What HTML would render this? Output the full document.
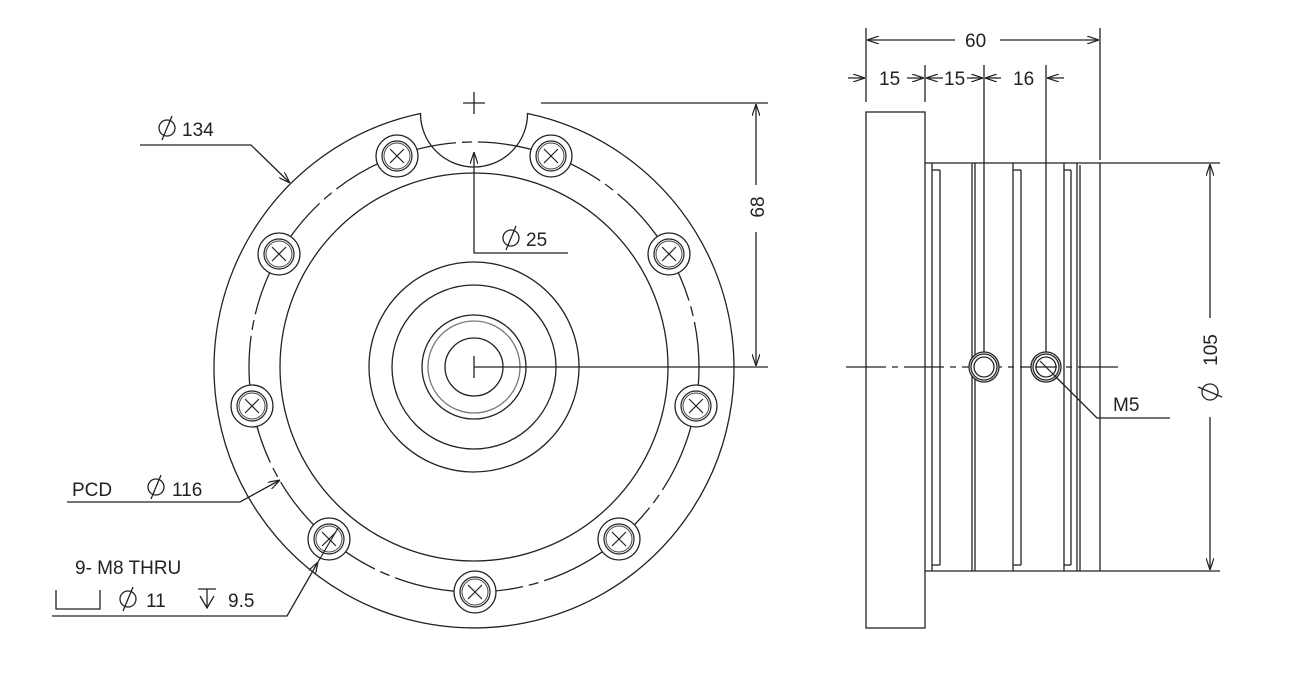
<!DOCTYPE html>
<html><head><meta charset="utf-8"><style>
html,body{margin:0;padding:0;background:#fff;}
svg{display:block;}
text{font-family:"Liberation Sans",Arial,sans-serif;font-size:19px;fill:#222;}
</style></head><body>
<svg width="1308" height="675" viewBox="0 0 1308 675" xmlns="http://www.w3.org/2000/svg">
<defs>
<marker id="a" viewBox="0 0 12 8" refX="12" refY="4" markerWidth="12" markerHeight="8" orient="auto" markerUnits="userSpaceOnUse">
<path d="M0,0 L12,4 L0,8" fill="none" stroke="#222" stroke-width="1.2"/></marker>
<g id="ph"><circle r="21" fill="#fff" stroke="#222" stroke-width="1.3"/><circle r="15" fill="none" stroke="#222" stroke-width="1.2"/><circle r="13" fill="none" stroke="#444" stroke-width="1"/><line x1="-7" y1="-7" x2="7" y2="7" stroke="#222" stroke-width="1.2"/><line x1="-7" y1="7" x2="7" y2="-7" stroke="#222" stroke-width="1.2"/></g>
<g id="dia"><circle r="8" fill="none" stroke="#222" stroke-width="1.3"/><line x1="-5" y1="12" x2="5" y2="-12" stroke="#222" stroke-width="1.3"/></g>
</defs>
<g fill="none" stroke="#222" stroke-width="1.3">
<path d="M 420.5 113.5 A 260 260 0 1 0 527.5 113.5 A 47 47 0 0 1 420.5 113.5 Z"/>
<circle cx="474" cy="367" r="225" stroke-dasharray="130 6 10 6"/>
<circle cx="474" cy="367" r="194"/>
<circle cx="474" cy="367" r="105"/>
<circle cx="474" cy="367" r="82"/>
<circle cx="474" cy="367" r="52"/>
<circle cx="474" cy="367" r="46" stroke="#777"/>
<circle cx="474" cy="367" r="29"/>
<line x1="474" y1="356" x2="474" y2="378"/>
<line x1="463" y1="103" x2="485" y2="103"/><line x1="474" y1="92" x2="474" y2="114"/>
<line x1="541" y1="103" x2="768" y2="103"/>
<line x1="474" y1="367" x2="768" y2="367"/>
<line x1="756" y1="185" x2="756" y2="104" marker-end="url(#a)"/>
<line x1="756" y1="232" x2="756" y2="366" marker-end="url(#a)"/>
<polyline points="568,253 474,253 474,152" marker-end="url(#a)"/>
<polyline points="140,145 251,145 290,183" marker-end="url(#a)"/>
<polyline points="67,502 240,502 280,480" marker-end="url(#a)"/>
<polyline points="52,616 287,616 318,562" marker-end="url(#a)"/>
<polyline points="56,590 56,609 100,609 100,590"/>
</g>
<g>
<use href="#ph" x="475" y="592"/>
<use href="#ph" x="329" y="539"/>
<use href="#ph" x="252" y="406"/>
<use href="#ph" x="279" y="254"/>
<use href="#ph" x="397" y="156"/>
<use href="#ph" x="551" y="156"/>
<use href="#ph" x="669" y="254"/>
<use href="#ph" x="696" y="406"/>
<use href="#ph" x="619" y="539"/>
</g>
<line x1="318" y1="562" x2="338" y2="528" stroke="#222" stroke-width="1.2"/>
<use href="#dia" x="167" y="128"/><text x="182" y="136">134</text>
<use href="#dia" x="511" y="238"/><text x="526" y="246">25</text>
<text x="72" y="496">PCD</text>
<use href="#dia" x="156" y="487"/><text x="172" y="496">116</text>
<text x="75" y="574">9- M8 THRU</text>
<use href="#dia" x="128" y="599"/><text x="146" y="607">11</text>
<g stroke="#222" stroke-width="1.3" fill="none"><line x1="198" y1="589" x2="216" y2="589"/><polyline points="200,596 207,608 214,596"/><line x1="207" y1="589" x2="207" y2="608"/></g>
<text x="228" y="607">9.5</text>
<text transform="translate(764,207) rotate(-90)" text-anchor="middle">68</text>
<g fill="none" stroke="#222" stroke-width="1.3">
<line x1="846" y1="367" x2="1122" y2="367" stroke-dasharray="40 6 6 6"/>
<rect x="866" y="112" width="59" height="516"/>
<line x1="925" y1="163" x2="1100" y2="163"/>
<line x1="925" y1="571" x2="1100" y2="571"/>
<line x1="1100" y1="163" x2="1100" y2="571"/>
<line x1="932" y1="163" x2="932" y2="571"/>
<line x1="940" y1="170" x2="940" y2="565"/>
<line x1="932" y1="170" x2="940" y2="170"/><line x1="932" y1="565" x2="940" y2="565"/>
<line x1="972" y1="163" x2="972" y2="571"/>
<line x1="975" y1="163" x2="975" y2="571"/>
<line x1="1013" y1="163" x2="1013" y2="571"/>
<line x1="1021" y1="170" x2="1021" y2="565"/>
<line x1="1013" y1="170" x2="1021" y2="170"/><line x1="1013" y1="565" x2="1021" y2="565"/>
<line x1="1064" y1="163" x2="1064" y2="571"/>
<line x1="1071" y1="170" x2="1071" y2="565"/>
<line x1="1064" y1="170" x2="1071" y2="170"/><line x1="1064" y1="565" x2="1071" y2="565"/>
<line x1="1077" y1="163" x2="1077" y2="571"/>
<line x1="1080" y1="165" x2="1080" y2="571"/>
<line x1="866" y1="28" x2="866" y2="102"/>
<line x1="1100" y1="28" x2="1100" y2="160"/>
<line x1="955" y1="40" x2="867" y2="40" marker-end="url(#a)"/>
<line x1="1000" y1="40" x2="1099" y2="40" marker-end="url(#a)"/>
<line x1="925" y1="65" x2="925" y2="102"/>
<line x1="984" y1="65" x2="984" y2="352"/>
<line x1="1046" y1="65" x2="1046" y2="352"/>
<line x1="848" y1="78" x2="865" y2="78" marker-end="url(#a)"/>
<line x1="907" y1="78" x2="924" y2="78" marker-end="url(#a)"/>
<line x1="943" y1="78" x2="926" y2="78" marker-end="url(#a)"/>
<line x1="967" y1="78" x2="983" y2="78" marker-end="url(#a)"/>
<line x1="1001" y1="78" x2="985" y2="78" marker-end="url(#a)"/>
<line x1="1064" y1="78" x2="1047" y2="78" marker-end="url(#a)"/>
<line x1="1100" y1="163" x2="1220" y2="163"/>
<line x1="1100" y1="571" x2="1220" y2="571"/>
<line x1="1210" y1="318" x2="1210" y2="164" marker-end="url(#a)"/>
<line x1="1210" y1="417" x2="1210" y2="570" marker-end="url(#a)"/>
<polyline points="1046,367 1097,418 1170,418"/>
</g>
<g fill="#fff" stroke="#222" stroke-width="1.3">
<circle cx="984" cy="367" r="15"/><circle cx="984" cy="367" r="13" fill="none"/><circle cx="984" cy="367" r="10" fill="none"/>
<circle cx="1046" cy="367" r="15"/><circle cx="1046" cy="367" r="13" fill="none"/><circle cx="1046" cy="367" r="10" fill="none"/>
</g>
<line x1="1035" y1="367" x2="1057" y2="367" stroke="#222" stroke-width="1.2"/>
<line x1="1040" y1="361" x2="1064" y2="385" stroke="#222" stroke-width="1.2"/>
<text x="965" y="47">60</text>
<text x="879" y="85">15</text>
<text x="944" y="85">15</text>
<text x="1013" y="85">16</text>
<text x="1113" y="411">M5</text>
<text transform="translate(1217,350) rotate(-90)" text-anchor="middle">105</text>
<use href="#dia" transform="translate(1210,392) rotate(-90)"/>
</svg>
</body></html>
